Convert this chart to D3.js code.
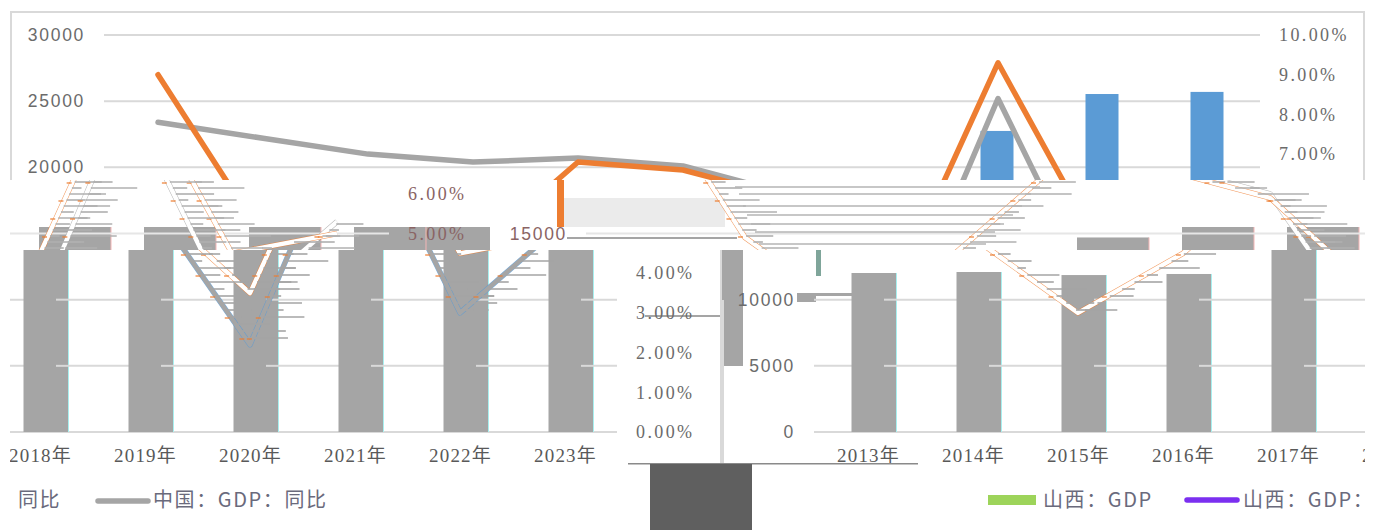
<!DOCTYPE html>
<html>
<head>
<meta charset="utf-8">
<script src="https://d3js.org/d3.v7.min.js"></script>
<style>
  html, body { margin: 0; padding: 0; background: #fff; overflow: hidden; }
  svg { display: block; }
</style>
</head>
<body>
<div id="chart"></div>
<script>
// values
const years = ["2013年","2014年","2015年","2016年","2017年","2018年","2019年","2020年","2021年","2022年","2023年"];
const shanxiGdp = [12015, 12090, 11860, 11940, 14700, 16800, 17000, 17800, 22750, 25540, 25700];
const shanxiYoy = [9.0, 4.9, 3.0, 4.5, 6.8, 6.6, 5.9, 3.5, 9.3, 4.5, 5.0];
const chinaYoy = [7.8, 7.4, 7.0, 6.8, 6.9, 6.7, 6.0, 2.2, 8.4, 3.0, 5.3];
const leftTicks = [0, 5000, 10000, 15000, 20000, 25000, 30000];
const rightTicks = [0, 1, 2, 3, 4, 5, 6, 7, 8, 9, 10];

const width = 1375, height = 530;
const wrap = 1353; // the picture wraps round at this width

const x = d3.scalePoint().domain(years).range([158, 1208]);
const yLeft = d3.scaleLinear().domain([0, 30000]).range([432, 35]);
const yRight = d3.scaleLinear().domain([0, 10]).range([432, 35]);

const svg = d3.select("#chart").append("svg").attr("width", width).attr("height", height);
const defs = svg.append("defs");

function clip(id, y0, y1) {
  defs.append("clipPath").attr("id", id)
    .append("rect").attr("x", 10).attr("y", y0).attr("width", 1355).attr("height", y1 - y0);
}
clip("topBand", 0, 180);
clip("midBand", 180, 250);
clip("midBars", 227, 250);
clip("lowBand", 250, 464);

const lineGdp = d3.line().x((d, i) => x(years[i])).y(d => yRight(d));
const serif = "'Liberation Serif','Noto Sans CJK SC',serif";
const sans = "'Liberation Sans','Noto Sans CJK SC',sans-serif";

function drawFrame(g) {
  g.append("rect").attr("x", 11).attr("y", 12).attr("width", 1353).attr("height", 600)
    .attr("fill", "none").attr("stroke", "#d9d9d9").attr("stroke-width", 2);
  g.selectAll("line.grid").data(leftTicks).join("line").attr("class", "grid")
    .attr("x1", 104).attr("x2", 1260)
    .attr("y1", d => yLeft(d)).attr("y2", d => yLeft(d))
    .attr("stroke", "#d9d9d9").attr("stroke-width", 2);
}

function drawBars(g, o) {
  g.selectAll("rect.bar").data(shanxiGdp).join("rect").attr("class", "bar")
    .attr("x", (d, i) => x(years[i]) + o.barDx - o.barW / 2)
    .attr("width", o.barW)
    .attr("y", d => yLeft(d))
    .attr("height", d => yLeft(0) - yLeft(d))
    .attr("fill", o.barColor);
  if (o.fringe) {
    g.selectAll("line.fringe").data(shanxiGdp).join("line").attr("class", "fringe")
      .attr("x1", (d, i) => x(years[i]) + o.barDx + o.barW / 2)
      .attr("x2", (d, i) => x(years[i]) + o.barDx + o.barW / 2)
      .attr("y1", d => yLeft(d)).attr("y2", yLeft(0))
      .attr("stroke", o.fringe).attr("stroke-width", 1);
  }
}

// only the labels that land inside the band are kept
function drawAxes(g, o) {
  const inBand = d => d >= o.y0 && d <= o.y1;
  const la = g.append("g").attr("transform", "translate(85,0)")
    .call(d3.axisLeft(yLeft).tickValues(leftTicks.filter(d => inBand(yLeft(d)) && 85 + o.shift > 30 && 85 + o.shift < width))
      .tickSize(0).tickPadding(0).tickFormat(d3.format("d")));
  la.select(".domain").remove();
  la.selectAll("text").attr("font-family", sans).attr("font-size", 17.5)
    .attr("letter-spacing", 1.7).attr("fill", o.textColor);
  const ra = g.append("g").attr("transform", "translate(1279,0)")
    .call(d3.axisRight(yRight).tickValues(rightTicks.filter(d => inBand(yRight(d)) && 1279 + o.shift > 0 && 1279 + o.shift < width))
      .tickSize(0).tickPadding(0).tickFormat(d => d.toFixed(2) + "%"));
  ra.select(".domain").remove();
  ra.selectAll("text").attr("font-family", serif).attr("font-size", 18)
    .attr("letter-spacing", 2.4).attr("fill", o.textColor);
  if (o.y1 > 432) {
    const shown = years.filter(d => x(d) + o.shift > 0 && x(d) + o.shift < width + 40);
    const xa = g.append("g").attr("transform", "translate(0,432)")
      .call(d3.axisBottom(x).tickValues(shown).tickSize(0).tickPadding(17));
    xa.select(".domain").remove();
    xa.selectAll("text").attr("font-family", serif).attr("font-size", 19)
      .attr("letter-spacing", 1.2).attr("fill", "#595959");
  }
}

// plain round lines, top of the picture
function drawLines(g) {
  [[chinaYoy, "#a5a5a5"], [shanxiYoy, "#ed7d31"]].forEach(([vals, col]) => {
    g.append("path").attr("d", lineGdp(vals)).attr("fill", "none")
      .attr("stroke", col).attr("stroke-width", 5.5)
      .attr("stroke-linecap", "round").attr("stroke-linejoin", "round");
  });
}

// the broken rendition of the lines further down: hollow with a thin edge
function drawHollow(g, layers) {
  layers.forEach(([vals, edge, inner]) => {
    g.append("path").attr("d", lineGdp(vals)).attr("fill", "none")
      .attr("stroke", edge).attr("stroke-width", 5.4).attr("stroke-opacity", 0.8)
      .attr("stroke-linejoin", "round");
    g.append("path").attr("d", lineGdp(vals)).attr("fill", "none")
      .attr("stroke", inner).attr("stroke-width", 4.4).attr("stroke-linejoin", "round");
  });
}

// x where a series crosses a given pixel row, one per segment
function crossings(vals, row) {
  const out = [];
  for (let i = 0; i < vals.length - 1; i++) {
    const a = yRight(vals[i]), b = yRight(vals[i + 1]);
    if ((a - row) * (b - row) < 0) {
      out.push({ seg: i, x: d3.interpolateNumber(x(years[i]), x(years[i + 1]))((row - a) / (b - a)) });
    }
  }
  return out;
}

const smear = [18, 34, 12, 46, 24, 58, 16, 40];

function drawStreaks(g, rows, colour, scale) {
  rows.forEach((row, k) => {
    [shanxiYoy, chinaYoy].forEach((vals, s) => {
      crossings(vals, row).forEach((c, j) => {
        const len = smear[(k + j * 3 + s) % smear.length] * scale;
        g.append("line").attr("x1", c.x + 2).attr("x2", c.x + 2 + len)
          .attr("y1", row).attr("y2", row)
          .attr("stroke", colour).attr("stroke-width", 1.6);
        if (k % 3 === 0) {
          g.append("line").attr("x1", c.x - 6).attr("x2", c.x - 1)
            .attr("y1", row + 1).attr("y2", row + 1)
            .attr("stroke", "#ed7d31").attr("stroke-width", 1.2);
        }
      });
    });
  });
}

function band(clipId, shift, draw) {
  const outer = svg.append("g").attr("clip-path", `url(#${clipId})`);
  [shift, shift - wrap].forEach(s => {
    const g = outer.append("g").attr("transform", `translate(${s},0)`);
    draw(g, s);
  });
  return outer;
}

// top band, as drawn
band("topBand", 0, (g, s) => {
  drawFrame(g);
  drawBars(g, { barDx: -1, barW: 33, barColor: "#5b9bd5" });
  drawLines(g);
  drawAxes(g, { textColor: "#6b6b6b", y0: 0, y1: 180, shift: s });
});

// middle band
svg.append("rect").attr("x", 424).attr("y", 227).attr("width", 66).attr("height", 23).attr("fill", "#a5a5a5");
band("midBars", 482, g => {
  drawBars(g, { barDx: 53, barW: 72, barColor: "#a5a5a5", fringe: "#f4b6b6" });
});
svg.append("rect").attr("x", 560).attr("y", 198).attr("width", 165).attr("height", 29).attr("fill", "#ebebeb");
svg.append("rect").attr("x", 557).attr("y", 180).attr("width", 7).attr("height", 47).attr("fill", "#ed7d31");
svg.append("rect").attr("x", 567).attr("y", 237).attr("width", 170).attr("height", 2).attr("fill", "#a5a5a5");
band("midBand", 482, (g, s) => {
  g.append("line").attr("x1", 104).attr("x2", 1260)
    .attr("y1", yLeft(15000)).attr("y2", yLeft(15000))
    .attr("stroke", "#e6e6e6").attr("stroke-width", 2);
  drawHollow(g, [[chinaYoy, "#a5a5a5", "#fff"], [shanxiYoy, "#ed7d31", "#fff"]]);
  drawStreaks(g, d3.range(182, 250, 6), "#b0b0b0", 0.8);
  drawAxes(g, { textColor: "#8a6464", y0: 185, y1: 245, shift: s });
});

// long streaks across the gap of the middle band
[187, 194, 206, 215, 224, 232, 244].forEach((row, k) => {
  svg.append("line").attr("x1", 735 + k * 4).attr("x2", 1040 - k * 9)
    .attr("y1", row).attr("y2", row)
    .attr("stroke", "#b5b5b5").attr("stroke-width", 1.6);
});

// lower band
svg.append("rect").attr("x", 720).attr("y", 250).attr("width", 23).attr("height", 116).attr("fill", "#a5a5a5");
svg.append("rect").attr("x", 797).attr("y", 293).attr("width", 19).attr("height", 9).attr("fill", "#a5a5a5");
svg.append("rect").attr("x", 816).attr("y", 293).attr("width", 38).attr("height", 3).attr("fill", "#a5a5a5");
svg.append("rect").attr("x", 816).attr("y", 250).attr("width", 5).attr("height", 26).attr("fill", "#7fa59a");
svg.append("rect").attr("x", 645).attr("y", 315).attr("width", 75).attr("height", 2).attr("fill", "#a5a5a5");
band("lowBand", 710, (g, s) => {
  drawFrame(g);
  drawBars(g, { barDx: 6, barW: 45, barColor: "#a5a5a5", fringe: "#a8f0f0" });
  // gridline pieces lying over the right edge of each bar
  leftTicks.slice(1, 3).forEach(t => {
    g.selectAll(null).data(years).join("line")
      .attr("x1", d => x(d) + 16).attr("x2", d => x(d) + 29)
      .attr("y1", yLeft(t)).attr("y2", yLeft(t))
      .attr("stroke", "#d9d9d9").attr("stroke-width", 2);
  });
  drawHollow(g, [[chinaYoy, "#5b9bd5", "#a5a5a5"], [shanxiYoy, "#ed7d31", "#fff"]]);
  drawStreaks(g, d3.range(254, 345, 7), "#a5a5a5", 0.7);
  drawAxes(g, { textColor: "#6b6b6b", y0: 255, y1: 440, shift: s });
});
svg.append("rect").attr("x", 720).attr("y", 300).attr("width", 4).attr("height", 164).attr("fill", "#d9d9d9");

// bottom strip: legend, and the dark block
svg.append("rect").attr("x", 628).attr("y", 463).attr("width", 290).attr("height", 1.5).attr("fill", "#8a8a8a");
svg.append("rect").attr("x", 650).attr("y", 464).attr("width", 102).attr("height", 66).attr("fill", "#5f5f5f");

const legendText = [
  ["同比", 18], ["中国：GDP：同比", 153], ["山西：GDP", 1043], ["山西：GDP：", 1243]
];
svg.selectAll("text.legend").data(legendText).join("text").attr("class", "legend")
  .attr("x", d => d[1]).attr("y", 507)
  .attr("font-family", "'Noto Sans CJK SC',sans-serif").attr("font-size", 20)
  .attr("letter-spacing", 1.6).attr("fill", "#6a6a7c")
  .text(d => d[0]);
svg.append("line").attr("x1", 98).attr("x2", 148).attr("y1", 501).attr("y2", 501)
  .attr("stroke", "#a5a5a5").attr("stroke-width", 5.5).attr("stroke-linecap", "round");
svg.append("rect").attr("x", 988).attr("y", 495).attr("width", 48).attr("height", 10).attr("fill", "#9dd45a");
svg.append("line").attr("x1", 1187).attr("x2", 1237).attr("y1", 500).attr("y2", 500)
  .attr("stroke", "#7b2ff0").attr("stroke-width", 5.5).attr("stroke-linecap", "round");
</script>
</body>
</html>
